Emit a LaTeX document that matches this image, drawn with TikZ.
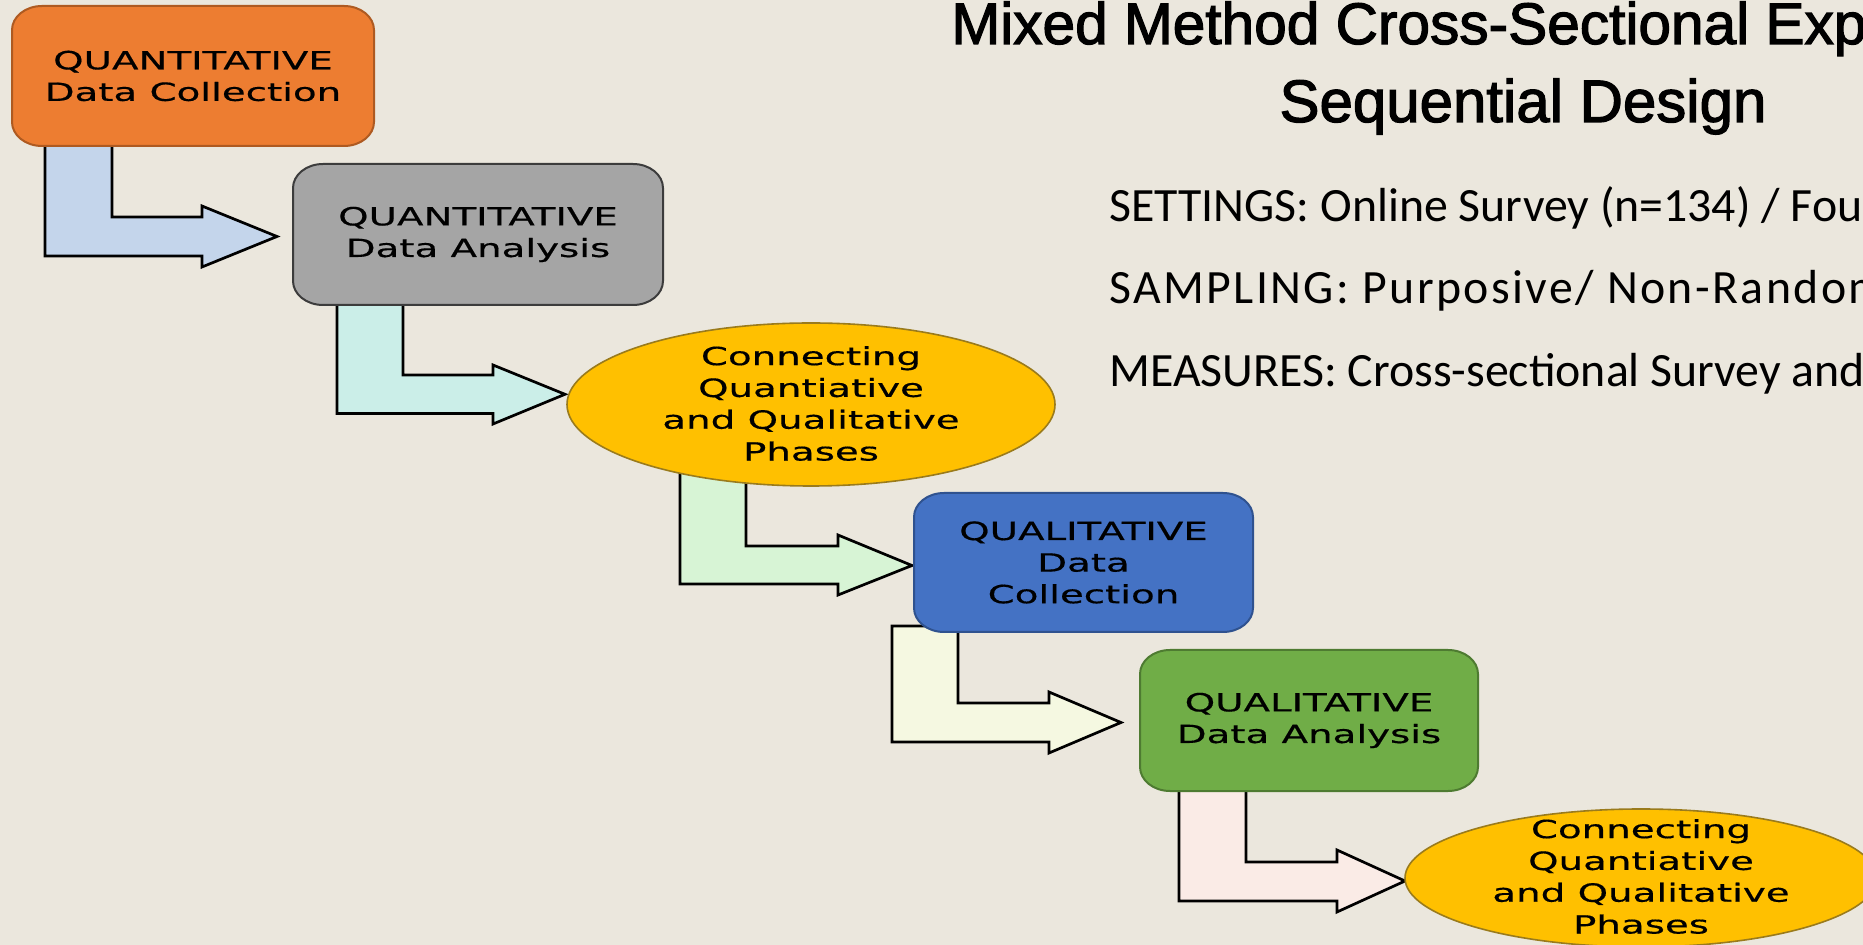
\documentclass[tikz,border=0pt]{standalone}
\usepackage{fontspec}
\newfontfamily\boxfont[FakeStretch=1.55,FakeBold=0.5]{DejaVu Sans}
\newfontfamily\titlefont[FakeBold=2]{Liberation Sans}
\newfontfamily\bodyfont{Carlito}
\usetikzlibrary{shapes.geometric}
\pgfdeclarelayer{back}
\pgfdeclarelayer{arrows}
\pgfdeclarelayer{shapes}
\pgfsetlayers{back,arrows,shapes,main}

\definecolor{bgc}{HTML}{EBE7DD}
\definecolor{orangefill}{HTML}{ED7D31}
\definecolor{orangeline}{HTML}{AE5A21}
\definecolor{grayfill}{HTML}{A5A5A5}
\definecolor{grayline}{HTML}{3C3C3C}
\definecolor{bluefill}{HTML}{4472C4}
\definecolor{blueline}{HTML}{2F528F}
\definecolor{greenfill}{HTML}{70AD47}
\definecolor{greenline}{HTML}{4E7B31}
\definecolor{ellfill}{HTML}{FFC000}
\definecolor{ellline}{HTML}{9A7B1C}
\definecolor{arA}{HTML}{C4D5EB}
\definecolor{arB}{HTML}{CBEEE8}
\definecolor{arC}{HTML}{D7F4D5}
\definecolor{arD}{HTML}{F5F8E1}
\definecolor{arE}{HTML}{FAEBE6}

\tikzset{
  boxnode/.style={rectangle, inner sep=0pt, outer sep=0pt, align=center, text=black,
    font=\boxfont\fontsize{12.5}{15.8}\selectfont},
  ellnode/.style={ellipse, inner sep=0pt, outer sep=0pt, draw=ellline, fill=ellfill, line width=0.8pt},
  elltext/.style={inner sep=0pt, align=center, text=black,
    font=\boxfont\fontsize{12.5}{15.9}\selectfont},
  barrow/.style={draw=black, line width=1.35pt, line join=miter},
  slidetitle/.style={inner sep=0pt, anchor=base west, text=black,
    font=\titlefont\fontsize{29.3}{35}\selectfont},
  slidetitleB/.style={inner sep=0pt, anchor=base, text=black,
    font=\titlefont\fontsize{30}{35}\selectfont},
  bodyline/.style={inner sep=0pt, anchor=base west, text=black,
    font=\bodyfont\fontsize{23.9}{28}\selectfont},
}

\newcommand{\slidebox}[2]{%
  \draw[#2] ([xshift=15pt]#1.north west) -- ([xshift=-15pt]#1.north east)
    arc[start angle=90, end angle=0, x radius=15pt, y radius=12pt]
    -- ([yshift=12pt]#1.south east)
    arc[start angle=0, end angle=-90, x radius=15pt, y radius=12pt]
    -- ([xshift=15pt]#1.south west)
    arc[start angle=270, end angle=180, x radius=15pt, y radius=12pt]
    -- ([yshift=-12pt]#1.north west)
    arc[start angle=180, end angle=90, x radius=15pt, y radius=12pt] -- cycle;}

\begin{document}
\begin{tikzpicture}[x=0.5pt, y=0.5pt]
\useasboundingbox (0,0) rectangle (1863,-945);
\begin{pgfonlayer}{back}
  \fill[bgc] (0,0) rectangle (1863,-945);
\end{pgfonlayer}

% nodes
\node[boxnode, minimum width=181pt, minimum height=70pt] (qc) at (193,-76)
  {QUANTITATIVE\\Data Collection};
\node[boxnode, minimum width=185pt, minimum height=70.5pt] (qa) at (478,-234.5)
  {QUANTITATIVE\\Data Analysis};
\node[ellnode, minimum width=244pt, minimum height=81.5pt] (e1) at (811,-404.5) {};
\node[elltext] (e1t) at (811,-403.5) {Connecting\\Quantiative\\and Qualitative\\Phases};
\node[boxnode, minimum width=169.5pt, minimum height=69.5pt] (lc) at (1083.5,-562.5)
  {QUALITATIVE\\Data\\Collection};
\node[boxnode, minimum width=169pt, minimum height=70.5pt] (la) at (1309,-720.5)
  {QUALITATIVE\\Data Analysis};
\node[ellnode, minimum width=236pt, minimum height=69pt] (e2) at (1641,-878) {};
\node[elltext] (e2t) at (1641,-876.5)
  {Connecting\\Quantiative\\and Qualitative\\Phases};

% box shapes
\begin{pgfonlayer}{shapes}
  \slidebox{qc}{fill=orangefill, draw=orangeline, line width=1pt}
  \slidebox{qa}{fill=grayfill, draw=grayline, line width=1pt}
  \slidebox{lc}{fill=bluefill, draw=blueline, line width=1pt}
  \slidebox{la}{fill=greenfill, draw=greenline, line width=1pt}
\end{pgfonlayer}

% bent block arrows
\begin{pgfonlayer}{arrows}
  \draw[barrow, fill=arA] (45,-140) -- (112,-140) -- (112,-217) -- (202,-217) -- (202,-206)
    -- (277,-236.5) -- (202,-267) -- (202,-256) -- (45,-256) -- cycle;
  \draw[barrow, fill=arB] (337,-298) -- (403,-298) -- (403,-375) -- (493,-375) -- (493,-365)
    -- (565,-394.3) -- (493,-424) -- (493,-413.5) -- (337,-413.5) -- cycle;
  \draw[barrow, fill=arC] (680,-455) -- (746,-455) -- (746,-546) -- (838,-546) -- (838,-535)
    -- (912,-565.5) -- (838,-595) -- (838,-584) -- (680,-584) -- cycle;
  \draw[barrow, fill=arD] (892,-626) -- (958,-626) -- (958,-703) -- (1049,-703) -- (1049,-692)
    -- (1121,-722.5) -- (1049,-753) -- (1049,-742) -- (892,-742) -- cycle;
  \draw[barrow, fill=arE] (1179,-785) -- (1246,-785) -- (1246,-862) -- (1337,-862) -- (1337,-850)
    -- (1405,-881) -- (1337,-912) -- (1337,-901) -- (1179,-901) -- cycle;
\end{pgfonlayer}

% title and text
\node[slidetitle] (t1) at (951,-44) {Mixed Method Cross-Sectional Exp};
\node[slidetitleB] (t2) at (1523,-122) {Sequential Design};
\node[bodyline] (s1) at (1109,-222) {SETTINGS: Online Survey (n=134) / Fou};
\node[bodyline] (s2) at (1109,-304) {\addfontfeature{LetterSpace=5}SAMPLING: Purposive/ Non-Random};
\node[bodyline] (s3) at (1109,-387) {MEASURES: Cross-sectional Survey and};
\end{tikzpicture}
\end{document}
